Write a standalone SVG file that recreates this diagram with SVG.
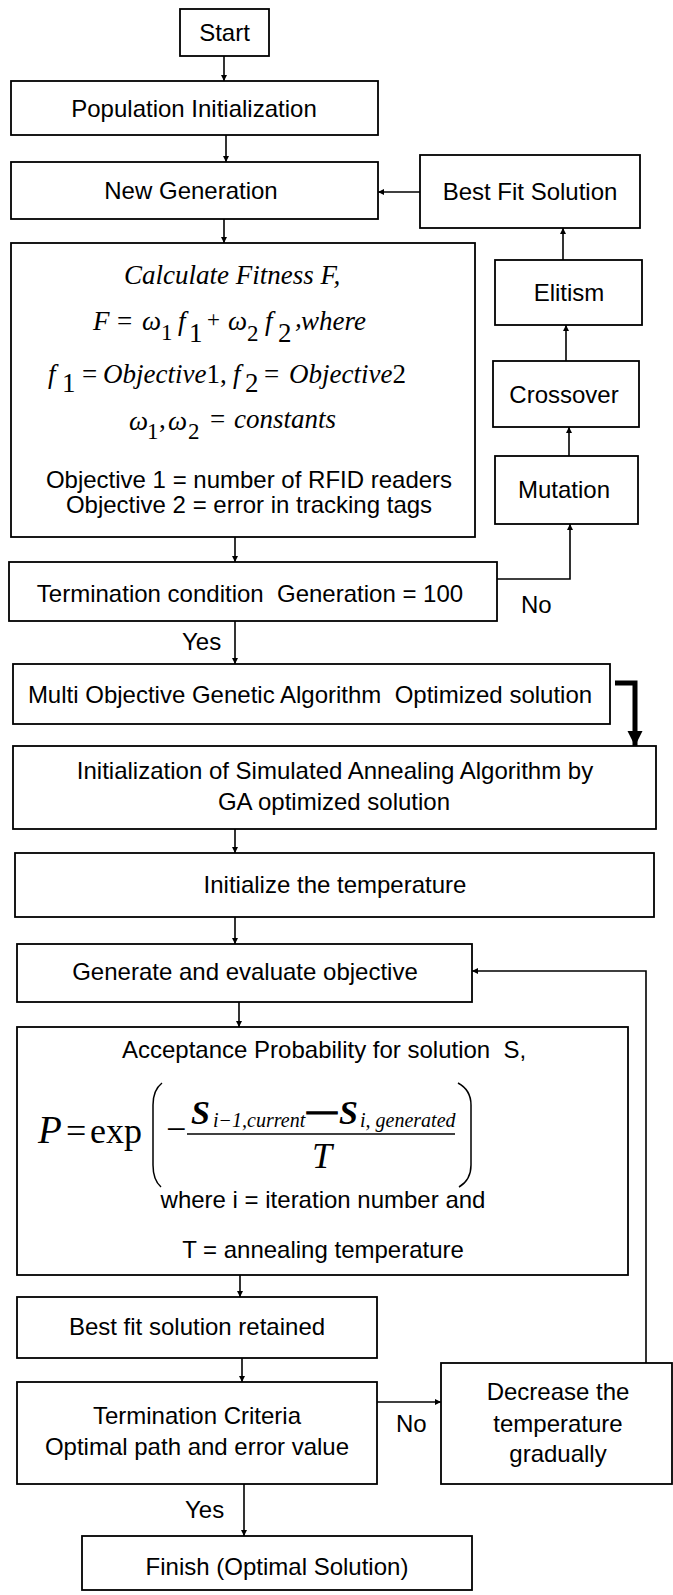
<svg xmlns="http://www.w3.org/2000/svg" width="673" height="1595" viewBox="0 0 673 1595" xml:space="preserve">
  <style>
    .box { fill: #ffffff; stroke: #000000; stroke-width: 1.8; }
    .lbl { font-family: "Liberation Sans", Arial, sans-serif; font-size: 24px; fill: #000000; white-space: pre; }
    .mid { text-anchor: middle; }
    .m { font-family: "Liberation Serif", "Times New Roman", serif; font-size: 27px; fill: #000000; }
    .it { font-style: italic; }
    .sub { font-size: 23px; }
    .wire { fill: none; stroke: #000000; stroke-width: 1.6; }
    .thick { fill: none; stroke: #000000; stroke-width: 5; }
    .paren { fill: none; stroke: #000000; stroke-width: 1.5; }
  </style>
  <defs>
    <marker id="arr" viewBox="0 0 10 10" refX="10" refY="5" markerWidth="6" markerHeight="6" markerUnits="userSpaceOnUse" orient="auto">
      <path d="M0,0 L10,5 L0,10 z" fill="#000000"/>
    </marker>
    <marker id="arrBig" viewBox="0 0 10 10" refX="10" refY="5" markerWidth="3" markerHeight="3.2" orient="auto">
      <path d="M0,0 L10,5 L0,10 z" fill="#000000"/>
    </marker>
  </defs>
  <rect width="673" height="1595" fill="#ffffff"/>

  <!-- connectors -->
  <g id="connectors">
    <path class="wire" d="M224,56 V81" marker-end="url(#arr)"/>
    <path class="wire" d="M226,135 V162" marker-end="url(#arr)"/>
    <path class="wire" d="M224,219 V243" marker-end="url(#arr)"/>
    <path class="wire" d="M420,192 H378" marker-end="url(#arr)"/>
    <path class="wire" d="M235,537 V562" marker-end="url(#arr)"/>
    <path class="wire" d="M497,579 H570 V524" marker-end="url(#arr)"/>
    <path class="wire" d="M569,456 V427" marker-end="url(#arr)"/>
    <path class="wire" d="M566,361 V325" marker-end="url(#arr)"/>
    <path class="wire" d="M563,260 V228" marker-end="url(#arr)"/>
    <path class="wire" d="M235,621 V664" marker-end="url(#arr)"/>
    <path class="thick" d="M615,683 H635 V746" marker-end="url(#arrBig)"/>
    <path class="wire" d="M235,829 V853" marker-end="url(#arr)"/>
    <path class="wire" d="M235,917 V944" marker-end="url(#arr)"/>
    <path class="wire" d="M239,1002 V1027" marker-end="url(#arr)"/>
    <path class="wire" d="M240,1275 V1297" marker-end="url(#arr)"/>
    <path class="wire" d="M242,1358 V1382" marker-end="url(#arr)"/>
    <path class="wire" d="M377,1402 H441" marker-end="url(#arr)"/>
    <path class="wire" d="M646,1363 V971 H472" marker-end="url(#arr)"/>
    <path class="wire" d="M244,1484 V1536" marker-end="url(#arr)"/>
    <text class="lbl" x="521" y="613">No</text>
    <text class="lbl" x="182" y="650">Yes</text>
    <text class="lbl" x="396" y="1432">No</text>
    <text class="lbl" x="185" y="1518">Yes</text>
  </g>

  <g id="start">
    <rect class="box" x="180" y="9" width="89" height="47"/>
    <text class="lbl mid" x="224.5" y="41">Start</text>
  </g>

  <g id="population-init">
    <rect class="box" x="11" y="81" width="367" height="54"/>
    <text class="lbl mid" x="194" y="117">Population Initialization</text>
  </g>

  <g id="new-generation">
    <rect class="box" x="11" y="162" width="367" height="57"/>
    <text class="lbl mid" x="191" y="199">New Generation</text>
  </g>

  <g id="best-fit-solution">
    <rect class="box" x="420" y="155" width="220" height="73"/>
    <text class="lbl mid" x="530" y="200">Best Fit Solution</text>
  </g>

  <g id="fitness">
    <rect class="box" x="11" y="243" width="464" height="294"/>
    <text class="m it" x="124" y="284">Calculate Fitness F,</text>
    <!-- F = w1 f1 + w2 f2, where -->
    <text class="m it" x="93" y="330">F</text>
    <text class="m" x="117" y="330">=</text>
    <text class="m it" x="142" y="330">ω</text>
    <text class="m sub" x="161" y="340">1</text>
    <text class="m it" x="178" y="330">f</text>
    <text class="m" x="189" y="342">1</text>
    <text class="m sub" x="207" y="327">+</text>
    <text class="m it" x="228" y="330">ω</text>
    <text class="m sub" x="247" y="341">2</text>
    <text class="m it" x="265" y="330">f</text>
    <text class="m" x="278" y="342">2</text>
    <text class="m it" x="295" y="327">,</text>
    <text class="m it" x="301" y="330">where</text>
    <!-- f1 = Objective1, f2 = Objective2 -->
    <text class="m it" x="48" y="383">f</text>
    <text class="m" x="62" y="392">1</text>
    <text class="m" x="82" y="383">=</text>
    <text class="m" x="103" y="383"><tspan font-style="italic">Objective</tspan>1,</text>
    <text class="m it" x="233" y="383">f</text>
    <text class="m" x="245" y="392">2</text>
    <text class="m" x="264" y="383">=</text>
    <text class="m" x="289" y="383"><tspan font-style="italic">Objective</tspan>2</text>
    <!-- w1, w2 = constants -->
    <text class="m it" x="129" y="430">ω</text>
    <text class="m sub" x="147" y="439">1</text>
    <text class="m" x="159" y="428">,</text>
    <text class="m it" x="168" y="430">ω</text>
    <text class="m sub" x="188" y="439">2</text>
    <text class="m" x="210" y="428">=</text>
    <text class="m it" x="234" y="428">constants</text>
    <text class="lbl mid" x="249" y="488">Objective 1 = number of RFID readers</text>
    <text class="lbl mid" x="249" y="513">Objective 2 = error in tracking tags</text>
  </g>

  <g id="elitism">
    <rect class="box" x="495" y="260" width="147" height="65"/>
    <text class="lbl mid" x="569" y="301">Elitism</text>
  </g>

  <g id="crossover">
    <rect class="box" x="493" y="361" width="146" height="66"/>
    <text class="lbl mid" x="564" y="403">Crossover</text>
  </g>

  <g id="mutation">
    <rect class="box" x="495" y="456" width="143" height="68"/>
    <text class="lbl mid" x="564" y="498">Mutation</text>
  </g>

  <g id="termination-condition">
    <rect class="box" x="9" y="562" width="488" height="59"/>
    <text class="lbl mid" x="250" y="602">Termination condition  Generation = 100</text>
  </g>

  <g id="moga-solution">
    <rect class="box" x="13" y="664" width="597" height="60"/>
    <text class="lbl mid" x="310" y="703">Multi Objective Genetic Algorithm  Optimized solution</text>
  </g>

  <g id="sa-init">
    <rect class="box" x="13" y="746" width="643" height="83"/>
    <text class="lbl mid" x="335" y="779">Initialization of Simulated Annealing Algorithm by</text>
    <text class="lbl mid" x="334" y="810">GA optimized solution</text>
  </g>

  <g id="init-temperature">
    <rect class="box" x="15" y="853" width="639" height="64"/>
    <text class="lbl mid" x="335" y="893">Initialize the temperature</text>
  </g>

  <g id="generate-evaluate">
    <rect class="box" x="17" y="944" width="455" height="58"/>
    <text class="lbl mid" x="245" y="980">Generate and evaluate objective</text>
  </g>

  <g id="acceptance">
    <rect class="box" x="17" y="1027" width="611" height="248"/>
    <text class="lbl" x="122" y="1058">Acceptance Probability for solution  S,</text>
    <!-- P = exp( -(S_{i-1,current} - S_{i,generated}) / T ) -->
    <text class="m it" x="38" y="1143" style="font-size:39px">P</text>
    <text class="m" x="66" y="1143" style="font-size:36px">=</text>
    <text class="m" x="90" y="1143" style="font-size:36px">exp</text>
    <path class="paren" d="M162,1083 Q153,1090 153,1105 L153,1165 Q153,1180 161,1187"/>
    <text class="m" x="166" y="1141" style="font-size:36px">−</text>
    <text class="m it" x="191" y="1124" style="font-size:34px;font-weight:bold">S</text>
    <text class="m it" x="213" y="1127" style="font-size:20px">i−1,current</text>
    <text class="m" x="307" y="1120" style="font-size:30px;font-weight:bold" stroke="#000000" stroke-width="1.2">—</text>
    <text class="m it" x="339" y="1124" style="font-size:34px;font-weight:bold">S</text>
    <text class="m it" x="360" y="1127" style="font-size:20px">i, generated</text>
    <path d="M187,1134 H455" stroke="#000000" stroke-width="1.5"/>
    <text class="m it" x="312" y="1168" style="font-size:36px">T</text>
    <path class="paren" d="M458,1083 Q471,1090 471,1105 L471,1165 Q471,1180 459,1187"/>
    <text class="lbl mid" x="323" y="1208">where i = iteration number and</text>
    <text class="lbl mid" x="323" y="1258">T = annealing temperature</text>
  </g>

  <g id="best-fit-retained">
    <rect class="box" x="17" y="1297" width="360" height="61"/>
    <text class="lbl mid" x="197" y="1335">Best fit solution retained</text>
  </g>

  <g id="termination-criteria">
    <rect class="box" x="17" y="1382" width="360" height="102"/>
    <text class="lbl mid" x="197" y="1424">Termination Criteria</text>
    <text class="lbl mid" x="197" y="1455">Optimal path and error value</text>
  </g>

  <g id="decrease-temperature">
    <rect class="box" x="441" y="1363" width="231" height="121"/>
    <text class="lbl mid" x="558" y="1400">Decrease the</text>
    <text class="lbl mid" x="558" y="1432">temperature</text>
    <text class="lbl mid" x="558" y="1462">gradually</text>
  </g>

  <g id="finish">
    <rect class="box" x="82" y="1536" width="390" height="54"/>
    <text class="lbl mid" x="277" y="1575">Finish (Optimal Solution)</text>
  </g>
</svg>
